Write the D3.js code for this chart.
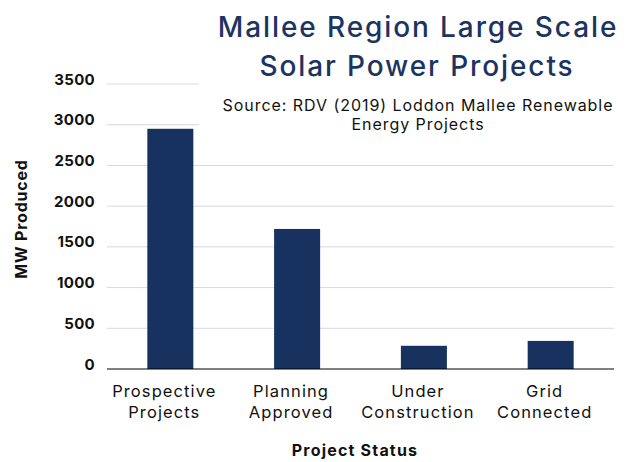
<!DOCTYPE html>
<html>
<head>
<meta charset="utf-8">
<script src="https://cdn.jsdelivr.net/npm/d3@7"></script>
<style>
  body { margin: 0; background: #fff; }
  text { font-family: "Inter", sans-serif; }
</style>
</head>
<body>
<div id="chart"></div>
<script>
// chart data
var categories = ["Prospective\nProjects", "Planning\nApproved", "Under\nConstruction", "Grid\nConnected"];
var values = [2950, 1720, 285, 345];
var yTicks = [0, 500, 1000, 1500, 2000, 2500, 3000, 3500];

var width = 633,
    height = 462;
var margin = {top: 84, right: 19, bottom: 93, left: 107};
var innerW = width - margin.left - margin.right,
    innerH = height - margin.top - margin.bottom;

var navy = "#17325e";

var svg = d3.select("#chart")
    .append("svg")
    .attr("width", width)
    .attr("height", height);

var g = svg.append("g")
    .attr("transform", "translate(" + margin.left + "," + margin.top + ")");

var x = d3.scaleBand()
    .domain(categories)
    .range([0, innerW])
    .paddingInner(0.637)
    .paddingOuter(0.318);

var y = d3.scaleLinear()
    .domain([0, 3500])
    .range([innerH, 0]);

// gridlines (the top two stop short where the title sits)
g.append("g")
    .selectAll("line")
    .data(yTicks.filter(function(d){ return d > 0; }))
    .enter()
    .append("line")
    .attr("x1", 0)
    .attr("x2", function(d){ return d >= 3000 ? 92 : innerW; })
    .attr("y1", function(d){ return y(d); })
    .attr("y2", function(d){ return y(d); })
    .attr("stroke", "#d9d9d9")
    .attr("stroke-width", 1);

// bars
g.selectAll("rect")
    .data(values)
    .enter()
    .append("rect")
    .attr("x", function(d, i){ return x(categories[i]); })
    .attr("width", x.bandwidth())
    .attr("y", function(d){ return y(d); })
    .attr("height", function(d){ return innerH - y(d); })
    .attr("fill", navy);

// baseline
g.append("line")
    .attr("x1", 0)
    .attr("x2", innerW)
    .attr("y1", innerH)
    .attr("y2", innerH)
    .attr("stroke", "#000")
    .attr("stroke-width", 1);

// y axis labels, baseline sits on the gridline
var yAxis = d3.axisLeft(y)
    .tickValues(yTicks)
    .tickSize(0)
    .tickPadding(12)
    .tickFormat(d3.format("d"));
var yg = g.append("g").call(yAxis);
yg.select(".domain").remove();
yg.selectAll("text")
    .attr("dy", "0")
    .style("font-size", "15px")
    .style("font-weight", "bold")
    .style("letter-spacing", "0.3px")
    .attr("fill", "#111");

// x axis labels (two lines each), nudged a little left like the original
var xg = g.append("g")
    .attr("transform", "translate(-6," + innerH + ")");
xg.selectAll("text")
    .data(categories)
    .enter()
    .append("text")
    .attr("text-anchor", "middle")
    .attr("y", 28)
    .style("font-size", "16.5px")
    .style("letter-spacing", "1.1px")
    .attr("fill", "#111")
    .each(function(d){
        var lines = d.split("\n");
        var t = d3.select(this);
        lines.forEach(function(l, i){
            t.append("tspan")
                .attr("x", x(d) + x.bandwidth() / 2)
                .attr("dy", i === 0 ? 0 : 21)
                .text(l);
        });
    });

// axis titles
svg.append("text")
    .attr("x", 355)
    .attr("y", 456)
    .attr("text-anchor", "middle")
    .style("font-size", "16px")
    .style("font-weight", "bold")
    .style("letter-spacing", "1.2px")
    .attr("fill", "#111")
    .text("Project Status");

svg.append("text")
    .attr("transform", "translate(27," + 219 + ") rotate(-90)")
    .attr("text-anchor", "middle")
    .style("font-size", "16px")
    .style("font-weight", "bold")
    .style("letter-spacing", "0.8px")
    .attr("fill", "#111")
    .text("MW Produced");

// title + source
var title = svg.append("text")
    .attr("text-anchor", "middle")
    .style("font-size", "28px")
    .style("font-weight", "500")
    .style("letter-spacing", "1.9px")
    .attr("fill", "#1b3461");
title.append("tspan").attr("x", 418).attr("y", 37).text("Mallee Region Large Scale");
title.append("tspan").attr("x", 417).attr("y", 76).text("Solar Power Projects");

var source = svg.append("text")
    .attr("text-anchor", "middle")
    .style("font-size", "16px")
    .style("letter-spacing", "0.95px")
    .attr("fill", "#111");
source.append("tspan").attr("x", 418).attr("y", 111).text("Source: RDV (2019) Loddon Mallee Renewable");
source.append("tspan").attr("x", 418).attr("y", 130).text("Energy Projects");
</script>
</body>
</html>
